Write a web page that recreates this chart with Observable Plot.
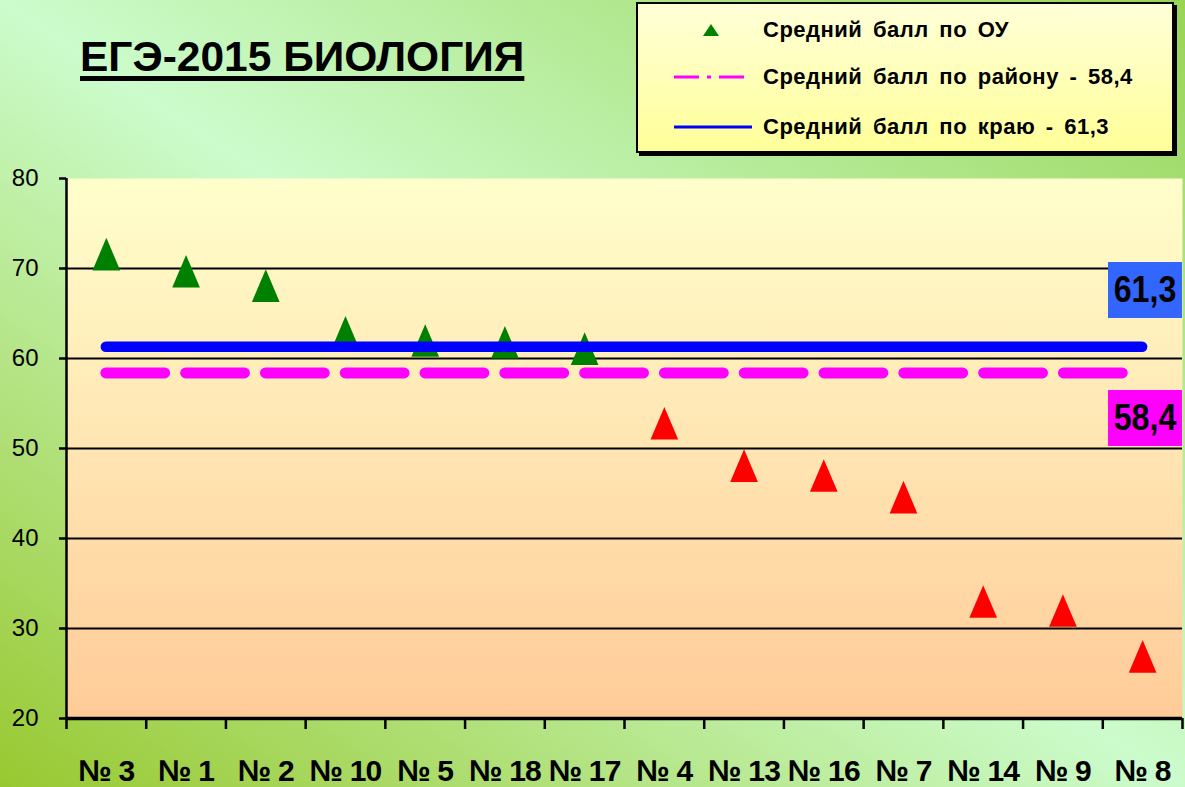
<!DOCTYPE html>
<html><head><meta charset="utf-8">
<script src="https://cdn.jsdelivr.net/npm/d3@7"></script>
<script src="https://cdn.jsdelivr.net/npm/@observablehq/plot@0.6"></script>
<style>
html,body{margin:0;padding:0;}
#page{position:relative;width:1185px;height:787px;overflow:hidden;background:linear-gradient(to top right,#98c830 0%,#ccfccc 50%,#98d454 100%);font-family:"Liberation Sans",Arial,sans-serif;color:#000;}
#chart{position:absolute;left:0;top:0;}
#title{position:absolute;left:80px;top:36px;font-size:42.5px;line-height:42px;font-weight:bold;text-decoration:underline;text-decoration-thickness:5px;text-underline-offset:5px;white-space:nowrap;}
#legend{position:absolute;left:636px;top:2px;width:534px;height:147px;border:2px solid #000;box-shadow:3px 3px 0 #000;background:linear-gradient(#ffffd8,#ffff99);}
.row{position:absolute;left:0;width:100%;height:30px;}
.row svg{position:absolute;left:34px;top:0;}
.row span{position:absolute;left:125px;top:0;line-height:30px;font-size:22px;font-weight:bold;white-space:nowrap;word-spacing:4px;letter-spacing:0.5px;}
.vbox{position:absolute;width:74px;height:56px;display:flex;align-items:center;justify-content:center;font-weight:bold;font-size:37px;}
.vbox span{display:inline-block;transform:scaleX(0.87);}
</style></head>
<body>
<svg width="0" height="0" style="position:absolute"><defs>
<linearGradient id="plotBg" x1="0" y1="0" x2="0" y2="1"><stop offset="0" stop-color="#ffffcc"/><stop offset="1" stop-color="#ffcb98"/></linearGradient>
</defs></svg>
<div id="page">
  <div id="chart"></div>
  <div id="title"></div>
  <div id="legend"></div>
  <div id="lab1" class="vbox" style="left:1108px;top:262px;background:#3366ff;"></div>
  <div id="lab2" class="vbox" style="left:1108px;top:390px;background:#ff00ff;"></div>
</div>
<script>
const titleText = "ЕГЭ-2015 БИОЛОГИЯ";
const categories = ["№ 3","№ 1","№ 2","№ 10","№ 5","№ 18","№ 17","№ 4","№ 13","№ 16","№ 7","№ 14","№ 9","№ 8"];
const scores = [71.6, 69.7, 68.1, 62.9, 62.0, 61.8, 61.1, 52.8, 48.1, 47.0, 44.6, 33.0, 32.0, 26.9];
const districtAvg = 58.4;
const regionAvg = 61.3;
const yTicks = [20, 30, 40, 50, 60, 70, 80];
const gridTicks = [30, 40, 50, 60, 70];
const legendLabels = ["Средний балл по ОУ", "Средний балл по району  - 58,4", "Средний балл по краю - 61,3"];
const fmt = v => String(v).replace(".", ",");

const n = categories.length;
const data = categories.map((c, i) => ({cat: c, pos: i + 0.5, score: scores[i]}));

const tri = {
  draw(ctx, size) {
    const r = Math.sqrt(size / Math.PI);
    const w = r * 1.7;
    ctx.moveTo(0, -r);
    ctx.lineTo(w / 2, r);
    ctx.lineTo(-w / 2, r);
    ctx.closePath();
  }
};

const chart = Plot.plot({
  width: 1185,
  height: 787,
  marginTop: 178,
  marginBottom: 69,
  marginLeft: 66,
  marginRight: 3,
  style: {background: "transparent", fontFamily: "'Liberation Sans', Arial, sans-serif", color: "#000", overflow: "visible"},
  x: {type: "linear", domain: [0, n]},
  y: {domain: [20, 80]},
  marks: [
    Plot.frame({fill: "url(#plotBg)", stroke: null}),
    Plot.gridY(gridTicks, {stroke: "#000", strokeOpacity: 1, strokeWidth: 2}),
    Plot.dot(data, {x: "pos", y: "score", r: 16.3, symbol: tri, fill: d => d.score >= districtAvg ? "#008000" : "#ff0000"}),
    Plot.ruleY([districtAvg], {x1: 0.5, x2: n - 0.5, stroke: "#ff00ff", strokeWidth: 11, strokeLinecap: "round", strokeDasharray: "58.8,21"}),
    Plot.ruleY([regionAvg], {x1: 0.5, x2: n - 0.5, stroke: "#0000ff", strokeWidth: 10.5, strokeLinecap: "round"}),
    Plot.ruleX([0], {stroke: "#000", strokeWidth: 2.5}),
    Plot.ruleY([20], {stroke: "#000", strokeWidth: 3.5}),
    Plot.axisY({ticks: yTicks, tickSize: 7, tickPadding: 21, fontSize: 24, label: null, strokeWidth: 2.5, tickFormat: d => String(d)}),
    Plot.axisX({ticks: d3.range(n + 1), tickSize: 11, tickFormat: () => "", label: null, strokeWidth: 2.5}),
    Plot.axisX({ticks: data.map(d => d.pos), tickSize: 0, tickPadding: 41, fontSize: 30, fontWeight: "bold", label: null,
      tickFormat: v => categories[Math.round(v - 0.5)]})
  ]
});
document.getElementById("chart").appendChild(chart);
d3.select(chart).selectAll('g[aria-label="x-axis tick label"] text').attr("letter-spacing", "-0.8px");

document.getElementById("title").textContent = titleText;
document.getElementById("lab1").innerHTML = "<span>" + fmt(regionAvg) + "</span>";
document.getElementById("lab2").innerHTML = "<span>" + fmt(districtAvg) + "</span>";

const legend = document.getElementById("legend");
const rowTops = [11, 58, 108];
const symbols = [
  '<svg width="80" height="30"><polygon points="39,0 47,12 31,12" fill="#008000" transform="translate(0,9)"/></svg>',
  '<svg width="80" height="30"><line x1="2" x2="80" y1="15" y2="15" stroke="#ff00ff" stroke-width="3" stroke-dasharray="25,8,4,8"/></svg>',
  '<svg width="80" height="30"><line x1="2" x2="80" y1="15" y2="15" stroke="#0000ff" stroke-width="3"/></svg>'
];
legendLabels.forEach((t, i) => {
  const row = document.createElement("div");
  row.className = "row";
  row.style.top = rowTops[i] + "px";
  row.innerHTML = symbols[i] + "<span></span>";
  row.querySelector("span").textContent = t;
  legend.appendChild(row);
});
</script>
</body></html>
